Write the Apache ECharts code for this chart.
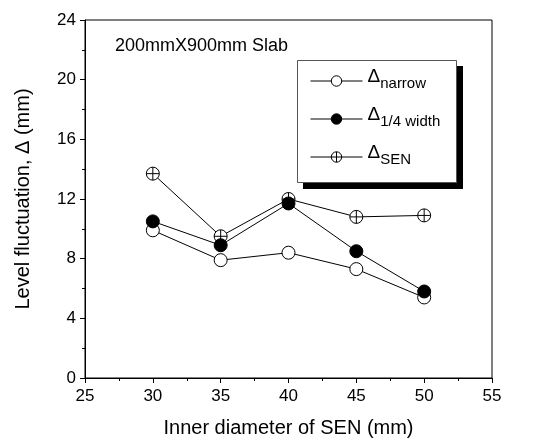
<!DOCTYPE html>
<html lang="en">
<head>
<meta charset="UTF-8">
<title>Level fluctuation</title>
<script src="https://cdn.jsdelivr.net/npm/echarts@6/dist/echarts.min.js"></script>
<style>
  html, body { margin: 0; padding: 0; background: #fff; }
  #chart { width: 534px; height: 446px; }
</style>
</head>
<body>
<div id="chart"></div>
<script>
// data
const diameters = [30, 35, 40, 45, 50];
const narrow = [9.9, 7.9, 8.4, 7.3, 5.4];
const quarterWidth = [10.5, 8.9, 11.7, 8.5, 5.8];
const senVals = [13.7, 9.5, 12.0, 10.8, 10.9];

const pairs = vals => diameters.map((d, i) => [d, vals[i]]);

// circle with a cross (⊕)
const crossCircle = 'path://M0,10 A10,10 0 1,1 20,10 A10,10 0 1,1 0,10 Z M10,0 L10,20 M0,10 L20,10';

const font = 'Liberation Sans, Arial, sans-serif';
const chart = echarts.init(document.getElementById('chart'));

// Δ with subscript
const sub = {
  d: { fontSize: 19, fontFamily: font, color: '#000', verticalAlign: 'bottom', lineHeight: 20, padding: [13, 0, 5, 0] },
  s: { fontSize: 15, fontFamily: font, color: '#000', verticalAlign: 'bottom', lineHeight: 16 }
};

const axisCommon = {
  axisLine: { show: true, lineStyle: { color: '#000', width: 1 } },
  axisTick: { show: true, inside: false, length: 5, lineStyle: { color: '#000' } },
  minorTick: { show: true, splitNumber: 2, length: 3, lineStyle: { color: '#000' } },
  splitLine: { show: false },
  axisLabel: { color: '#000', fontSize: 17, fontFamily: font },
  nameTextStyle: { color: '#000', fontSize: 20, fontFamily: font }
};

const option = {
  animation: false,
  backgroundColor: '#fff',
  grid: { left: 85, right: 42, top: 20, bottom: 68, show: true, borderColor: '#000', borderWidth: 1 },
  title: {
    text: '200mmX900mm Slab',
    left: 110, top: 32,
    textStyle: { fontSize: 18, fontWeight: 'normal', fontFamily: font, color: '#000' }
  },
  // legend frame + drop shadow
  graphic: [
    { type: 'rect', z: 5, shape: { x: 303, y: 66, width: 160, height: 123 }, style: { fill: '#000' } },
    { type: 'rect', z: 6, shape: { x: 297.5, y: 60.5, width: 159, height: 122 }, style: { fill: '#fff', stroke: '#555', lineWidth: 1 } }
  ],
  legend: {
    orient: 'vertical',
    left: 310, top: 54,
    padding: 0,
    itemGap: 1,
    itemWidth: 52, itemHeight: 13,
    z: 10,
    lineStyle: { width: 1, color: '#000' },
    itemStyle: { borderWidth: 1, borderColor: '#000' },
    data: ['narrow', 'quarter', 'sen'],
    formatter: name => {
      const map = { narrow: 'narrow', quarter: '1/4 width', sen: 'SEN' };
      return '{d|Δ}{s|' + map[name] + '}';
    },
    textStyle: { rich: sub }
  },
  xAxis: Object.assign({
    type: 'value', min: 25, max: 55, interval: 5,
    name: 'Inner diameter of SEN (mm)', nameLocation: 'middle', nameGap: 40
  }, axisCommon, { axisLabel: Object.assign({}, axisCommon.axisLabel, { margin: 10 }) }),
  yAxis: Object.assign({
    type: 'value', min: 0, max: 24, interval: 4,
    name: 'Level fluctuation, Δ (mm)', nameLocation: 'middle', nameGap: 52
  }, axisCommon, { axisLabel: Object.assign({}, axisCommon.axisLabel, { margin: 9 }) }),
  series: [
    {
      name: 'narrow', type: 'line', data: pairs(narrow), z: 2,
      symbol: 'circle', symbolSize: 13,
      lineStyle: { color: '#000', width: 1 },
      itemStyle: { color: '#fff', borderColor: '#000', borderWidth: 1 }
    },
    {
      name: 'sen', type: 'line', data: pairs(senVals), z: 3,
      symbol: crossCircle, symbolSize: 13,
      lineStyle: { color: '#000', width: 1 },
      itemStyle: { color: '#fff', borderColor: '#000', borderWidth: 1 }
    },
    {
      name: 'quarter', type: 'line', data: pairs(quarterWidth), z: 4,
      symbol: 'circle', symbolSize: 13,
      lineStyle: { color: '#000', width: 1 },
      itemStyle: { color: '#000', borderColor: '#000', borderWidth: 1 }
    }
  ]
};
chart.setOption(option);
</script>
</body>
</html>
